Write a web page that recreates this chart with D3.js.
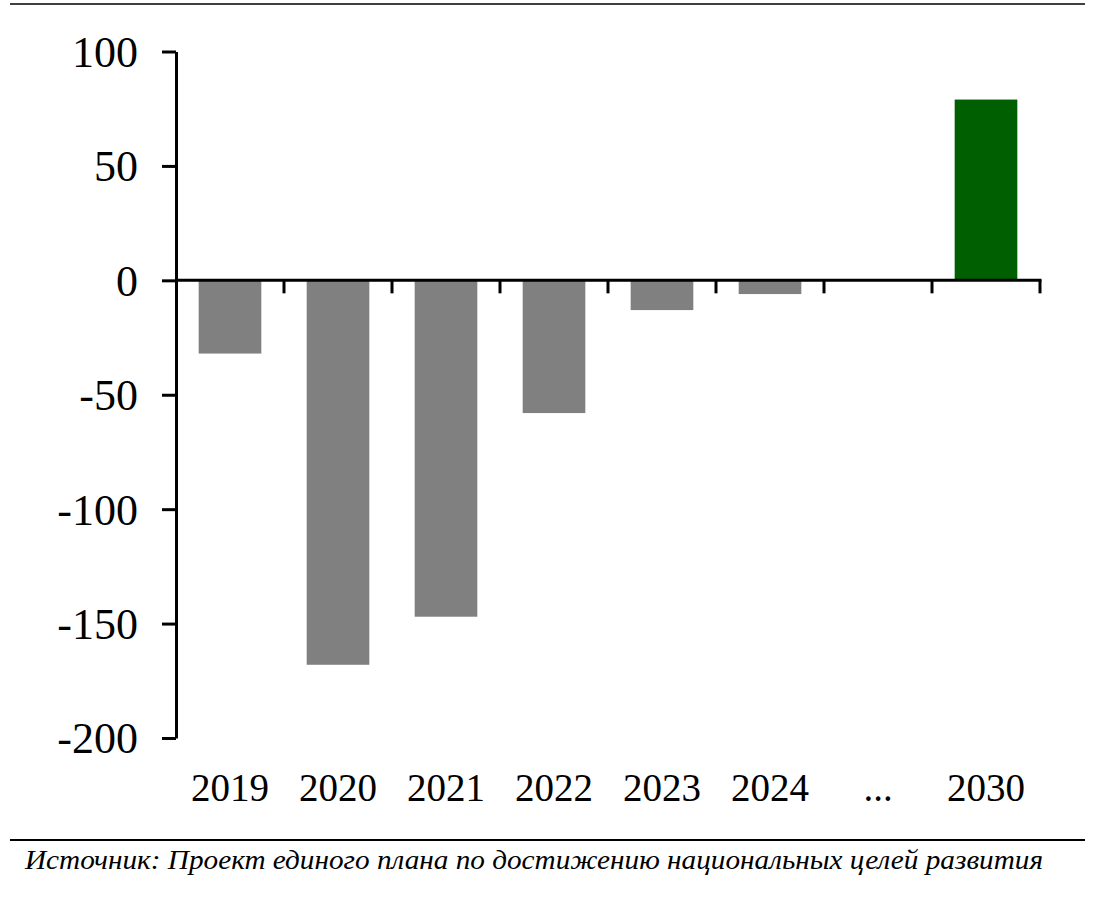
<!DOCTYPE html>
<html>
<head>
<meta charset="utf-8">
<script src="https://cdn.jsdelivr.net/npm/d3@7"></script>
<style>
  html, body { margin: 0; padding: 0; background: #fff; }
  svg { display: block; }
  .axis text { font-family: "Liberation Serif", "DejaVu Serif", serif; fill: #000; }
</style>
</head>
<body>
<div id="chart"></div>
<script>
// Data
var categories = ["2019", "2020", "2021", "2022", "2023", "2024", "...", "2030"];
var values = [-32, -168, -147, -58, -13, -6, null, 79];
var yTicks = [-200, -150, -100, -50, 0, 50, 100];
var source = "Источник: Проект единого плана по достижению национальных целей развития";

var width = 1102;
var height = 897;
var margin = { top: 51.5, right: 62, bottom: 159, left: 176 };
var chartW = width - margin.left - margin.right;
var chartH = height - margin.top - margin.bottom;

var svg = d3.select("#chart").append("svg")
  .attr("width", width)
  .attr("height", height);

// top rule
svg.append("line")
  .attr("x1", 10).attr("x2", 1085)
  .attr("y1", 4).attr("y2", 4)
  .attr("stroke", "#000").attr("stroke-width", 1.5);

var chart = svg.append("g")
  .attr("transform", "translate(" + margin.left + "," + margin.top + ")");

// Scales
var xScale = d3.scaleBand()
  .domain(categories)
  .range([0, chartW])
  .paddingInner(0.42)
  .paddingOuter(0.21);

var yScale = d3.scaleLinear()
  .domain([-200, 100])
  .range([chartH, 0]);

var step = xScale.step();
var y0 = yScale(0);

// Bars
chart.append("g").selectAll("rect")
  .data(categories.map(function(c, i) { return { key: c, value: values[i] }; })
    .filter(function(d) { return d.value !== null; }))
  .enter().append("rect")
  .attr("x", function(d) { return xScale(d.key); })
  .attr("width", xScale.bandwidth())
  .attr("y", function(d) { return yScale(Math.max(0, d.value)); })
  .attr("height", function(d) { return Math.abs(yScale(d.value) - y0); })
  .attr("fill", function(d) { return d.value >= 0 ? "#005f00" : "#808080"; });

// Y axis
var yAxis = d3.axisLeft(yScale)
  .tickValues(yTicks)
  .tickSize(14)
  .tickSizeOuter(0)
  .tickPadding(24)
  .tickFormat(function(d) { return String(d); });

var gy = chart.append("g").attr("class", "axis")
  .call(yAxis);
gy.select(".domain").attr("stroke-width", 3);
gy.selectAll(".tick line").attr("stroke-width", 3);
gy.selectAll(".tick text")
  .attr("font-size", 44)
  .attr("dy", "0.34em");

// X axis line at zero with ticks between categories
var gx = chart.append("g").attr("class", "axis");
gx.append("line")
  .attr("x1", 0).attr("x2", chartW + 1.5)
  .attr("y1", y0).attr("y2", y0)
  .attr("stroke", "#000").attr("stroke-width", 3);

var boundaries = categories.map(function(c) { return xScale(c) + xScale.bandwidth() / 2 + step / 2; });
gx.selectAll(".xtick")
  .data(boundaries)
  .enter().append("line")
  .attr("class", "xtick")
  .attr("x1", function(d) { return d; })
  .attr("x2", function(d) { return d; })
  .attr("y1", y0)
  .attr("y2", y0 + 13)
  .attr("stroke", "#000").attr("stroke-width", 3);

// Category labels under the plot
gx.selectAll(".xlabel")
  .data(categories)
  .enter().append("text")
  .attr("class", "xlabel")
  .attr("x", function(d) { return xScale(d) + xScale.bandwidth() / 2; })
  .attr("y", chartH + 63)
  .attr("text-anchor", "middle")
  .attr("font-size", 39)
  .text(function(d) { return d; });

// bottom rule and source
svg.append("line")
  .attr("x1", 10).attr("x2", 1085)
  .attr("y1", 840).attr("y2", 840)
  .attr("stroke", "#000").attr("stroke-width", 2);

svg.append("text")
  .attr("x", 25)
  .attr("y", 869)
  .attr("font-family", "'Liberation Serif', 'DejaVu Serif', serif")
  .attr("font-style", "italic")
  .attr("font-size", 28)
  .attr("textLength", 1018)
  .attr("lengthAdjust", "spacingAndGlyphs")
  .attr("fill", "#000")
  .text(source);
</script>
</body>
</html>
